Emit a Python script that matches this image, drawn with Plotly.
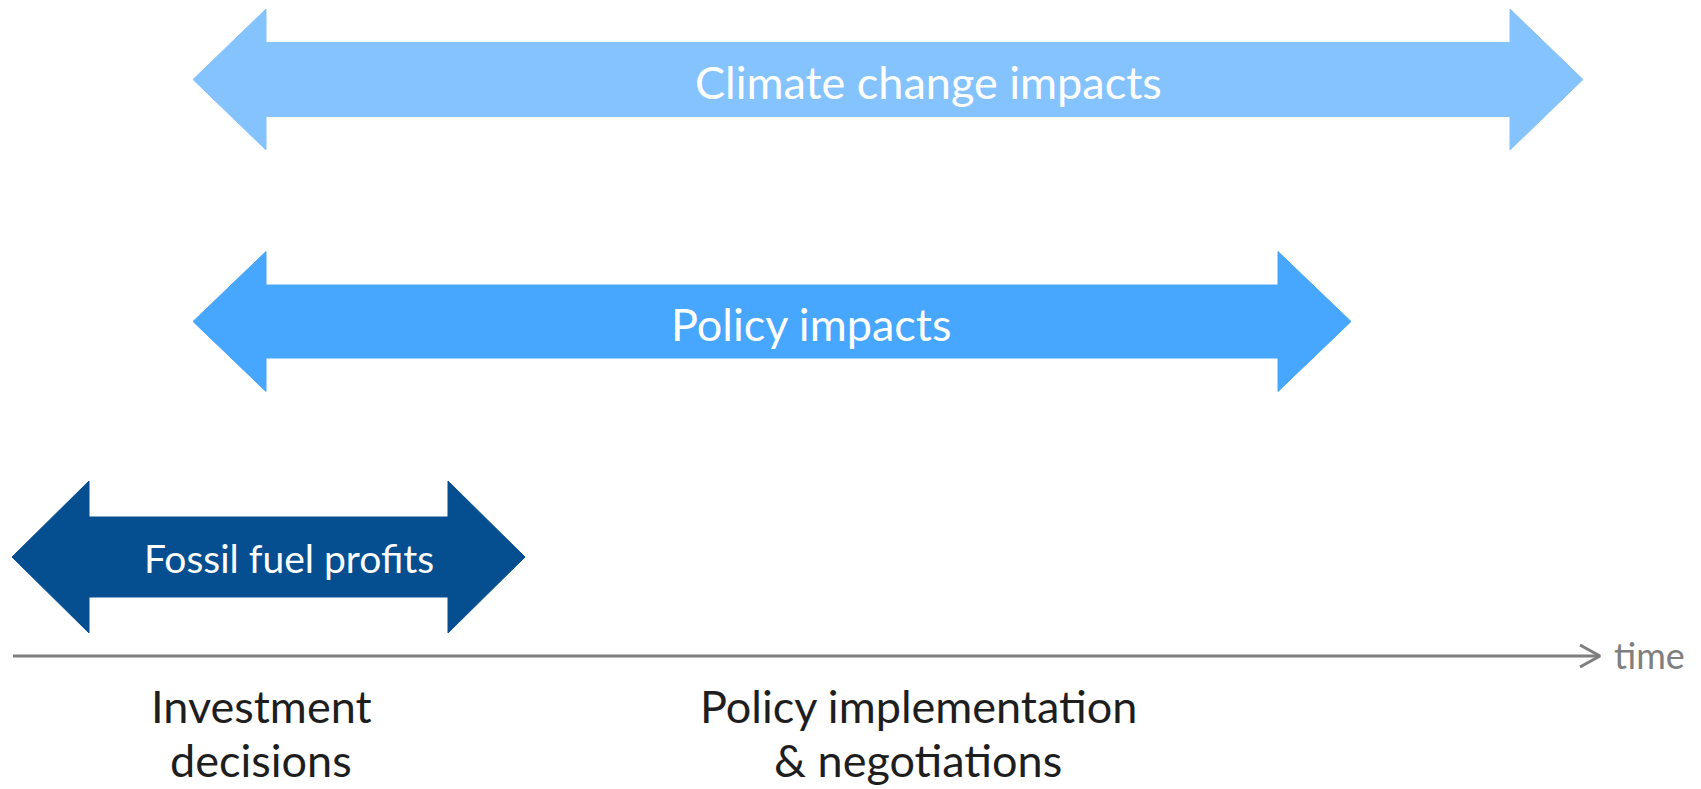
import plotly.graph_objects as go

# ---- data ----
arrow_labels = ["Climate change impacts", "Policy impacts", "Fossil fuel profits"]
arrow_start = [193, 193, 12]
arrow_end = [1583, 1351, 525]
arrow_row = [79.5, 321.5, 557]

axis_start = 13
axis_end = 1600
axis_row = 656
axis_label = "time"

phase_labels = [["Investment", "decisions"], ["Policy implementation", "& negotiations"]]
phase_x = [261, 918]

# ---- styles ----
arrow_colors = ["#85C3FF", "#47A6FD", "#054F91"]
arrow_head_len = [73, 73, 77]
arrow_head_half = [70.5, 70, 76]
arrow_shaft_half = [37, 36.5, 40]
arrow_font = [45, 45, 39]
label_shift = [40, 39, 20]
label_dy = [2, 2, 1]
FONT = "Lato"


def arrow_path(x0, x1, yc, hl, hh, sh):
    xs = [x0, x0 + hl, x0 + hl, x1 - hl, x1 - hl, x1, x1 - hl, x1 - hl, x0 + hl, x0 + hl, x0]
    ys = [yc, yc - hh, yc - sh, yc - sh, yc - hh, yc, yc + hh, yc + sh, yc + sh, yc + hh, yc]
    return xs, ys


fig = go.Figure()

for i, lab in enumerate(arrow_labels):
    xs, ys = arrow_path(arrow_start[i], arrow_end[i], arrow_row[i],
                        arrow_head_len[i], arrow_head_half[i], arrow_shaft_half[i])
    fig.add_trace(go.Scatter(x=xs, y=ys, mode="lines", fill="toself",
                             fillcolor=arrow_colors[i],
                             line=dict(color=arrow_colors[i], width=1),
                             hoverinfo="skip", showlegend=False))
    fig.add_annotation(x=(arrow_start[i] + arrow_end[i]) / 2 + label_shift[i],
                       y=arrow_row[i] + label_dy[i], text=lab, showarrow=False,
                       font=dict(family=FONT, size=arrow_font[i], color="white"),
                       xanchor="center", yanchor="middle")

# time axis line
fig.add_trace(go.Scatter(x=[axis_start, axis_end], y=[axis_row, axis_row], mode="lines",
                         line=dict(color="#7F7F7F", width=3), hoverinfo="skip", showlegend=False))
# chevron head
fig.add_trace(go.Scatter(x=[axis_end - 20, axis_end, axis_end - 20],
                         y=[axis_row - 11, axis_row, axis_row + 11], mode="lines",
                         line=dict(color="#7F7F7F", width=3), hoverinfo="skip", showlegend=False))
fig.add_annotation(x=axis_end + 12, y=axis_row - 1, text=axis_label, showarrow=False,
                   font=dict(family=FONT, size=36, color="#7F7F7F"),
                   xanchor="left", yanchor="middle")

for px, lines in zip(phase_x, phase_labels):
    # first line
    fig.add_annotation(x=px, y=706, text=lines[0], showarrow=False,
                       font=dict(family=FONT, size=45, color="#1E1E1E"),
                       xanchor="center", yanchor="middle")
    # second line, kept inside the bottom edge
    fig.add_annotation(x=px, xref="x", y=0, yref="paper", text=lines[1], showarrow=False,
                       font=dict(family=FONT, size=45, color="#1E1E1E"),
                       xanchor="center", yanchor="bottom")

fig.update_layout(
    width=1701, height=789,
    margin=dict(l=0, r=0, t=0, b=0),
    paper_bgcolor="white", plot_bgcolor="white",
    xaxis=dict(range=[0, 1701], visible=False, fixedrange=True),
    yaxis=dict(range=[789, 0], visible=False, fixedrange=True),
    showlegend=False,
)

fig.write_html("out.html", config={"displayModeBar": False},
               post_script="document.body.style.margin='0';document.body.style.overflow='hidden';")
